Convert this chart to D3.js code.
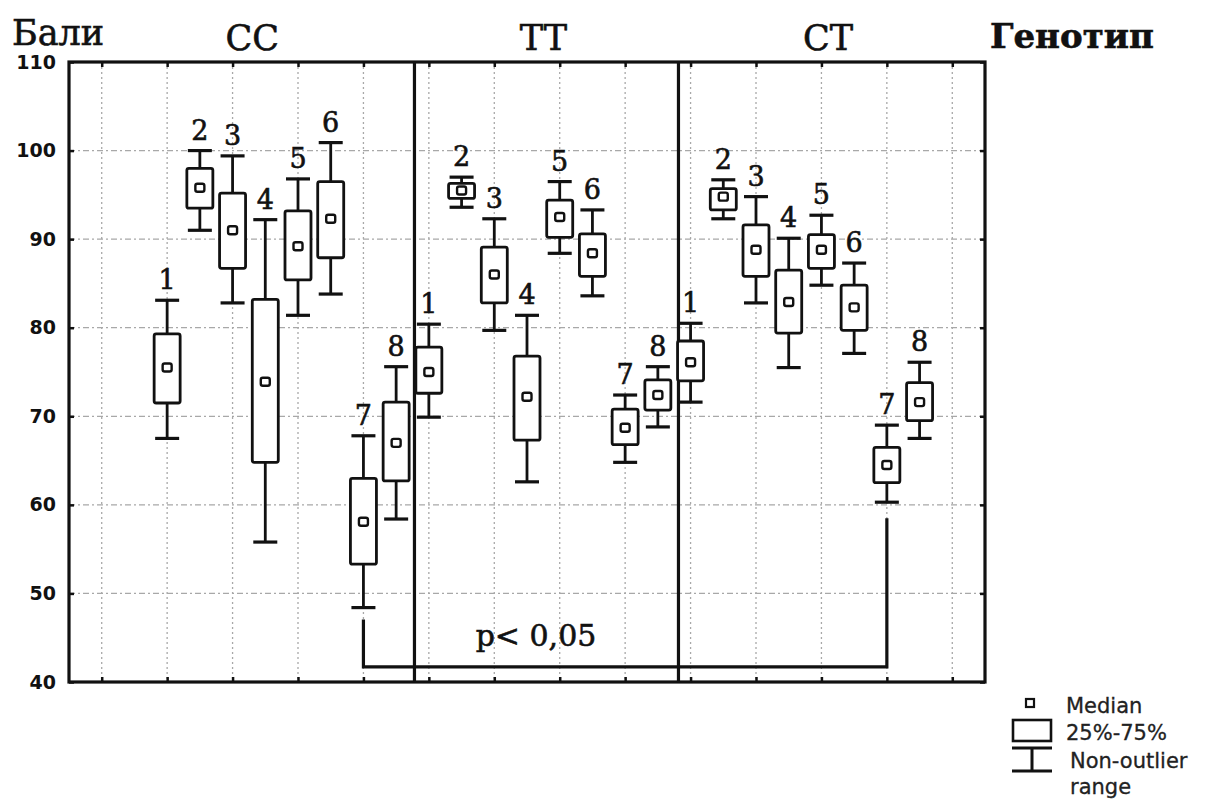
<!DOCTYPE html>
<html>
<head>
<meta charset="utf-8">
<title>Бали / Генотип</title>
<script src="https://d3js.org/d3.v7.min.js"></script>
<style>
  body { margin: 0; background: #fff; }
  .serif { font-family: "DejaVu Serif", "Liberation Serif", serif; fill: #111; stroke: #111; stroke-width: 0.6px; }
  .ylab text { font-family: "DejaVu Sans", sans-serif; font-weight: bold; font-size: 19px; fill: #111; }
  .legend { font-family: "DejaVu Sans", sans-serif; font-size: 21px; fill: #222; stroke: #222; stroke-width: 0.3px; }
</style>
</head>
<body>
<div id="chart"></div>
<script>
// genotype groups and the 8 indicators in each
var genotypes = ["CC", "TT", "CT"];
var indicators = ["1", "2", "3", "4", "5", "6", "7", "8"];

// [non-outlier min, 25%, median, 75%, non-outlier max]
var ccStats = [
  [67.5, 71.5, 75.5, 79.3, 83.1],
  [91.0, 93.5, 95.8, 98.0, 100.0],
  [82.8, 86.7, 91.0, 95.2, 99.4],
  [55.8, 64.8, 73.9, 83.2, 92.2],
  [81.4, 85.4, 89.2, 93.2, 96.8],
  [83.8, 87.9, 92.3, 96.5, 100.9],
  [48.4, 53.3, 58.1, 63.0, 67.8],
  [58.4, 62.7, 67.0, 71.6, 75.6]
];
var ttStats = [
  [69.9, 72.6, 75.0, 77.8, 80.4],
  [93.6, 94.6, 95.5, 96.3, 97.0],
  [79.7, 82.8, 86.0, 89.1, 92.3],
  [62.6, 67.3, 72.2, 76.8, 81.4],
  [88.4, 90.2, 92.5, 94.4, 96.5],
  [83.6, 85.8, 88.4, 90.6, 93.3],
  [64.8, 66.8, 68.7, 70.8, 72.4],
  [68.8, 70.7, 72.4, 74.1, 75.6]
];
var ctStats = [
  [71.6, 74.0, 76.1, 78.5, 80.5],
  [92.3, 93.3, 94.8, 95.7, 96.7],
  [82.8, 85.8, 88.8, 91.6, 94.8],
  [75.5, 79.4, 82.9, 86.5, 90.1],
  [84.8, 86.7, 88.8, 90.5, 92.7],
  [77.1, 79.7, 82.3, 84.8, 87.3],
  [60.3, 62.5, 64.5, 66.5, 69.0],
  [67.5, 69.5, 71.6, 73.8, 76.1]
];
var yTicks = [40, 50, 60, 70, 80, 90, 100, 110];

var width = 1219, height = 805;
var svg = d3.select("#chart").append("svg")
    .attr("width", width).attr("height", height);

// x in "slots": each box sits on a whole slot, grid on odd slots
var x = d3.scaleLinear().domain([0, 28]).range([69, 985]);
var y = d3.scaleLinear().domain([40, 110]).range([682, 62]);

var gridX = d3.range(1, 28, 2);
var boxW = 26, capW = 24;

var boxes = [];
[ccStats, ttStats, ctStats].forEach(function(st, g) {
  st.forEach(function(s, i) {
    boxes.push({ g: g, label: indicators[i], pos: 3 + g * 8 + i,
      lo: s[0], q1: s[1], med: s[2], q3: s[3], hi: s[4] });
  });
});

// grid
svg.append("g").selectAll("line.hg")
    .data(yTicks.slice(1, -1)).enter().append("line")
    .attr("x1", x(0)).attr("x2", x(28))
    .attr("y1", d => y(d)).attr("y2", d => y(d))
    .attr("stroke", "#a8a8a8").attr("stroke-width", 1.3)
    .attr("stroke-dasharray", "6,3,2,3");
svg.append("g").selectAll("line.vg")
    .data(gridX).enter().append("line")
    .attr("x1", d => x(d)).attr("x2", d => x(d))
    .attr("y1", y(110)).attr("y2", y(40))
    .attr("stroke", "#a8a8a8").attr("stroke-width", 1.3)
    .attr("stroke-dasharray", "2,3");

// axes (labels + small inner ticks)
var gY = svg.append("g").attr("class", "ylab")
    .attr("transform", "translate(" + x(0) + ",0)")
    .call(d3.axisLeft(y).tickValues(yTicks).tickSize(-5).tickPadding(13));
gY.select(".domain").remove();
gY.selectAll("line").attr("stroke", "#111").attr("stroke-width", 2.5);

var gY2 = svg.append("g").attr("transform", "translate(" + x(28) + ",0)")
    .call(d3.axisRight(y).tickValues(yTicks).tickSize(-5).tickFormat(""));
gY2.select(".domain").remove();
gY2.selectAll("line").attr("stroke", "#111").attr("stroke-width", 2.5);

var gX = svg.append("g").attr("transform", "translate(0," + y(40) + ")")
    .call(d3.axisBottom(x).tickValues(gridX).tickSize(-5).tickFormat(""));
gX.select(".domain").remove();
gX.selectAll("line").attr("stroke", "#111").attr("stroke-width", 2.5);
var gX2 = svg.append("g").attr("transform", "translate(0," + y(110) + ")")
    .call(d3.axisTop(x).tickValues(gridX).tickSize(-5).tickFormat(""));
gX2.select(".domain").remove();
gX2.selectAll("line").attr("stroke", "#111").attr("stroke-width", 2.5);

// frame and genotype dividers
svg.append("rect")
    .attr("x", x(0)).attr("y", y(110))
    .attr("width", x(28) - x(0)).attr("height", y(40) - y(110))
    .attr("fill", "none").attr("stroke", "#111").attr("stroke-width", 3.2);
svg.selectAll("line.div").data([10.56, 18.63]).enter().append("line")
    .attr("x1", d => x(d)).attr("x2", d => x(d))
    .attr("y1", y(110)).attr("y2", y(40))
    .attr("stroke", "#111").attr("stroke-width", 3.2);

// boxes
var bg = svg.append("g").selectAll("g").data(boxes).enter().append("g")
    .attr("stroke", "#111").attr("fill", "none");
bg.append("line")
    .attr("x1", d => x(d.pos)).attr("x2", d => x(d.pos))
    .attr("y1", d => y(d.hi)).attr("y2", d => y(d.q3))
    .attr("stroke-width", 2.8);
bg.append("line")
    .attr("x1", d => x(d.pos)).attr("x2", d => x(d.pos))
    .attr("y1", d => y(d.q1)).attr("y2", d => y(d.lo))
    .attr("stroke-width", 2.8);
bg.append("line")
    .attr("x1", d => x(d.pos) - capW / 2).attr("x2", d => x(d.pos) + capW / 2)
    .attr("y1", d => y(d.hi)).attr("y2", d => y(d.hi))
    .attr("stroke-width", 3.2);
bg.append("line")
    .attr("x1", d => x(d.pos) - capW / 2).attr("x2", d => x(d.pos) + capW / 2)
    .attr("y1", d => y(d.lo)).attr("y2", d => y(d.lo))
    .attr("stroke-width", 3.2);
bg.append("rect")
    .attr("x", d => x(d.pos) - boxW / 2).attr("width", boxW)
    .attr("y", d => y(d.q3)).attr("height", d => y(d.q1) - y(d.q3))
    .attr("rx", 2).attr("fill", "#fff").attr("stroke-width", 2.8);
bg.append("rect")
    .attr("x", d => x(d.pos) - 4.5).attr("width", 9)
    .attr("y", d => y(d.med) - 4).attr("height", 8)
    .attr("rx", 2).attr("fill", "#fff").attr("stroke-width", 2.4);
bg.append("text").attr("class", "serif")
    .attr("x", d => x(d.pos)).attr("y", d => y(d.hi) - 11)
    .attr("text-anchor", "middle")
    .style("font-size", "27px")
    .text(d => d.label);

// significance bracket between CC-7 and CT-7
var b1 = boxes[6], b2 = boxes[22], bracketLevel = 41.7;
svg.append("path")
    .attr("d", "M" + x(b1.pos) + "," + (y(b1.lo) + 12) +
               "V" + y(bracketLevel) + "H" + x(b2.pos) +
               "V" + (y(b2.lo) + 16))
    .attr("fill", "none").attr("stroke", "#111").attr("stroke-width", 3.2);
svg.append("text").attr("class", "serif")
    .attr("x", 536).attr("y", 646).attr("text-anchor", "middle")
    .style("font-size", "30px").text("p< 0,05");

// titles
svg.append("text").attr("class", "serif").attr("x", 12).attr("y", 45)
    .style("font-size", "35px").text("Бали");
svg.selectAll("text.gt").data(genotypes).enter().append("text")
    .attr("class", "serif")
    .attr("x", (d, i) => x([5.6, 14.5, 23.2][i])).attr("y", 50)
    .attr("text-anchor", "middle")
    .style("font-size", "35px").text(d => d);
svg.append("text").attr("class", "serif").attr("x", 990).attr("y", 48)
    .style("font-size", "34px").style("font-weight", "bold").text("Генотип");

// legend
var lg = svg.append("g");
lg.append("rect").attr("x", 1026).attr("y", 699).attr("width", 8).attr("height", 8)
    .attr("fill", "#fff").attr("stroke", "#111").attr("stroke-width", 2.2);
lg.append("rect").attr("x", 1013).attr("y", 720).attr("width", 38).attr("height", 21)
    .attr("fill", "#fff").attr("stroke", "#111").attr("stroke-width", 2.6);
lg.append("path").attr("d", "M1012,748H1052M1032,748V771M1012,771H1052")
    .attr("fill", "none").attr("stroke", "#111").attr("stroke-width", 3);
var legendText = ["Median", "25%-75%", "Non-outlier", "range"];
lg.selectAll("text").data(legendText).enter().append("text")
    .attr("class", "legend")
    .attr("x", (d, i) => i < 2 ? 1066 : 1070)
    .attr("y", (d, i) => [713, 740, 768, 794][i])
    .text(d => d);
</script>
</body>
</html>
